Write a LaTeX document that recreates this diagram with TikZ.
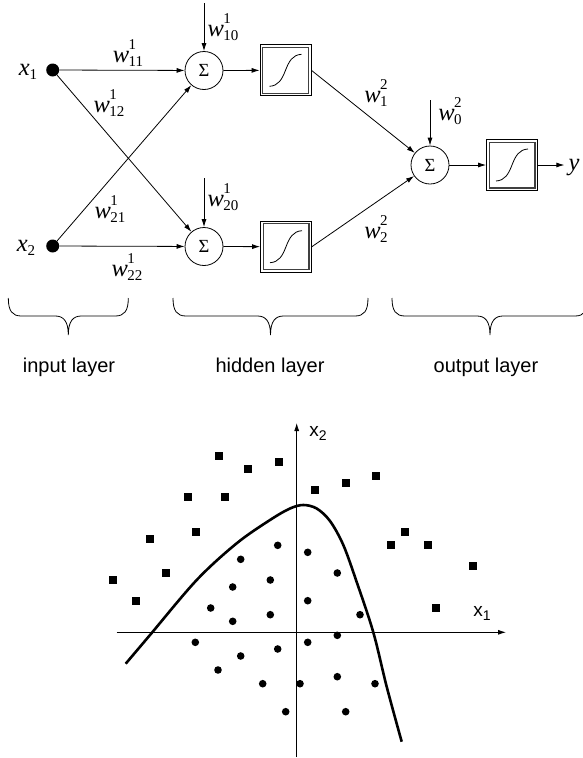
\documentclass[tikz,border=0pt]{standalone}
\usepackage{fontspec}
\setmainfont{Liberation Serif}
\newfontfamily\arialfont{Liberation Sans}
\usetikzlibrary{arrows.meta}

% script-size digits for weights and inputs
\newcommand\scr{\fontsize{15}{17}\selectfont}
\newcommand\wlab[2]{\textit{w}\kern-0.5pt\rlap{\raisebox{13.5pt}{\scr#1}}\raisebox{-3.5pt}{\scr#2}}
\newcommand\xlab[1]{\textit{x}\raisebox{-3.5pt}{\scr#1}}
% axis labels in sans
\newcommand\axlab[2]{{\arialfont\fontsize{19}{21}\selectfont #1\raisebox{-4pt}{\fontsize{14}{15}\selectfont #2}}}

\begin{document}
\begin{tikzpicture}[x=1pt,y=-1pt,
  link/.style={line width=0.8pt,-{Latex[length=8pt,width=5pt]}},
  inp/.style={circle,fill=black,minimum size=13pt,inner sep=0pt},
  sum/.style={circle,draw,line width=0.8pt,minimum size=38pt,inner sep=0pt,
              font=\fontsize{18.5}{20}\selectfont},
  act/.style={rectangle,draw,line width=0.8pt,minimum size=51pt,inner sep=0pt},
  wl/.style={font=\fontsize{24.5}{26}\selectfont,inner sep=0pt},
  layer/.style={font=\arialfont\fontsize{20}{22}\selectfont,anchor=base},
  brace/.style={line width=0.8pt},
  axis/.style={line width=0.8pt,-{Latex[length=8pt,width=5pt]}},
  sq/.style={fill=black},
]
\useasboundingbox (0,0) rectangle (583,758);
\clip (0,0) rectangle (583,758);
\fill[white] (0,0) rectangle (583,758);

% ---------------- network ----------------
\node[inp] (x1) at (52.7,70) {};
\node[inp] (x2) at (52.7,246) {};
\node[wl] at (28,72) {\xlab{1}};
\node[wl] at (26,248) {\xlab{2}};

\node[sum] (s1) at (204,70.5) {Σ};
\node[sum] (s2) at (204,246.5) {Σ};
\node[sum] (s3) at (430,165) {Σ};

\node[act] (b1) at (285.5,70.3) {};
\node[act] (b2) at (286,246.7) {};
\node[act] (b3) at (512,165) {};

% double frame and sigmoid inside each activation box
\foreach \b in {b1,b2,b3}{
  \draw[line width=1.2pt,black!75]
    ([xshift=3pt,yshift=-3pt]\b.north west) rectangle ([xshift=-3pt,yshift=3pt]\b.south east);
  \draw[line width=0.8pt,shift={(\b.center)}]
    (-16,16) .. controls (-7,15.5) and (-3.5,9) .. (0,0)
             .. controls (3.5,-9) and (7,-15.5) .. (16,-16);
}

\coordinate (t1) at (204,3);
\coordinate (t2) at (204,178);
\coordinate (t3) at (430,100);

\draw[link] (x1) -- (s1);
\draw[link] (x1) -- (s2);
\draw[link] (x2) -- (s1);
\draw[link] (x2) -- (s2);
\draw[link] (t1) -- (s1);
\draw[link] (t2) -- (s2);
\draw[link] (t3) -- (s3);
\draw[link] (s1) -- (b1);
\draw[link] (s2) -- (b2);
\draw[link] (b1.east) -- (s3);
\draw[link] (b2.east) -- (s3);
\draw[link] (s3) -- (b3);

\node[wl,inner sep=4pt] (y) at (574,168) {\textit{y}};
\draw[link] (b3.east) -- (b3.east -| y.west);

\node[wl] at (128,53)  {\wlab{1}{11}};
\node[wl] at (109,103) {\wlab{1}{12}};
\node[wl] at (110,209) {\wlab{1}{21}};
\node[wl] at (127,267) {\wlab{1}{22}};
\node[wl] at (223,27)  {\wlab{1}{10}};
\node[wl] at (223,197) {\wlab{1}{20}};
\node[wl] at (376,93)  {\wlab{2}{1}};
\node[wl] at (376,229) {\wlab{2}{2}};
\node[wl] at (450,111) {\wlab{2}{0}};

% ---------------- layer braces ----------------
\foreach \l/\m/\r in {8.3/68.3/128.3, 173/270.5/368, 392/490/588}{
  \draw[brace] (\l,298) .. controls (\l,311) and (\l+4,316) .. (\l+13,316)
      -- (\m-13,316) .. controls (\m-5,316) and (\m,321) .. (\m,335)
      .. controls (\m,321) and (\m+5,316) .. (\m+13,316)
      -- (\r-13,316) .. controls (\r-4,316) and (\r,311) .. (\r,298);
}
\node[layer] at (69,372) {input layer};
\node[layer] at (270,372) {hidden layer};
\node[layer] at (486,372) {output layer};

% ---------------- decision region plot ----------------
\coordinate (ax0) at (116.7,632.3);
\coordinate (ax1) at (506,632.3);
\coordinate (ay0) at (296.7,757);
\coordinate (ay1) at (296.7,423);
\draw[axis] (ax0) -- (ax1);
\draw[axis] (ay0) -- (ay1);
\node[inner sep=0pt] at (482,613) {\axlab{x}{1}};
\node[inner sep=0pt] at (318,433) {\axlab{x}{2}};

% class A (squares)
\foreach \px/\py in {219/455.7, 248/469.3, 278.7/462.3, 188/497, 225.3/497,
    315.3/490, 346/483.3, 376/476, 150.3/538.7, 196.3/531.7, 405/531.7,
    391/545.3, 428.3/545.3, 165.7/573, 113/580, 135.7/600.7, 473.3/566, 436/607.7}
  \fill[sq] (\px-4,\py-4) rectangle (\px+4,\py+4);

% class B (dots)
\foreach \px/\py in {277.7/545.3, 307.7/552.3, 240.7/559.3, 337.3/573, 270.3/580,
    232.7/587, 307.7/600.7, 210.7/608, 232.7/621.3, 270.3/614.7, 360/614.7,
    337.3/635.3, 195.3/642.3, 307.7/642.3, 277.7/649, 240.7/656, 218/670,
    337.3/676.7, 262.7/683.7, 300/683.7, 375/683.7, 285.7/711.7, 345.7/711.7}
  \fill (\px,\py) circle (3.8);

% separating boundary
\draw[line width=2.6pt] plot[smooth,tension=0.55] coordinates {
  (125.7,663.7) (150,635) (196.7,580) (236.7,543.3) (270,520) (290,508.5)
  (303.3,505) (316.7,508.5) (330,521) (343.3,545) (356.7,582) (373.3,632.3)
  (386.7,686.7) (401.7,741.7)};
\end{tikzpicture}
\end{document}
